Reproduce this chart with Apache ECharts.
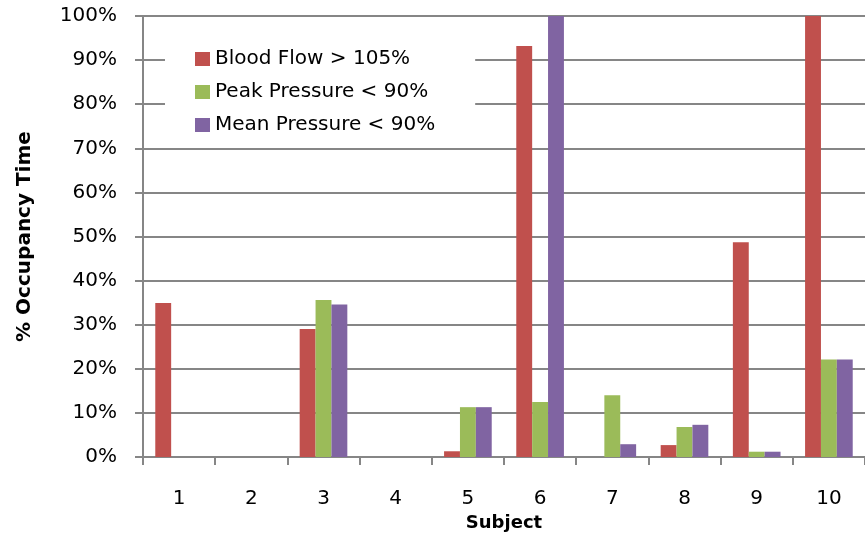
<!DOCTYPE html>
<html>
<head>
<meta charset="utf-8">
<script src="https://cdn.jsdelivr.net/npm/echarts@6/dist/echarts.min.js"></script>
<style>
html,body{margin:0;padding:0;background:#fff;}
#chart{width:865px;height:537px;}
</style>
</head>
<body>
<div id="chart"></div>
<script>
var categories = ['1','2','3','4','5','6','7','8','9','10'];
var seriesNames = ['Blood Flow > 105%', 'Peak Pressure < 90%', 'Mean Pressure < 90%'];
var bloodFlow    = [34.9, 0, 29.0, 0, 1.3, 93.2, 0, 2.7, 48.7, 100];
var peakPressure = [0, 0, 35.6, 0, 11.3, 12.5, 14.0, 6.8, 1.2, 22.1];
var meanPressure = [0, 0, 34.6, 0, 11.3, 100, 2.9, 7.3, 1.2, 22.1];
var colors = ['#C0504D', '#9BBB59', '#8064A2'];

var font = 'DejaVu Sans';
var chart = echarts.init(document.getElementById('chart'), null, {renderer: 'canvas'});
var dataSets = [bloodFlow, peakPressure, meanPressure];
var series = dataSets.map(function (d, i) {
  return {
    name: seriesNames[i],
    type: 'bar',
    data: d,
    barGap: '0%',
    barCategoryGap: '34%',
    itemStyle: {color: colors[i]},
    emphasis: {disabled: true},
    animation: false
  };
});

chart.setOption({
  animation: false,
  grid: {left: 143, top: 16, bottom: 80, right: -5, containLabel: false},
  legend: {
    orient: 'vertical',
    left: 165,
    top: 39,
    padding: [10, 40, 8, 30],
    backgroundColor: '#ffffff',
    itemWidth: 15,
    itemHeight: 14,
    itemGap: 13,
    icon: 'rect',
    textStyle: {fontFamily: font, fontSize: 20, lineHeight: 20, color: '#000'},
    data: seriesNames,
    z: 5
  },
  xAxis: {
    type: 'category',
    data: categories,
    name: 'Subject',
    nameLocation: 'middle',
    nameGap: 56,
    nameTextStyle: {fontFamily: font, fontSize: 18, fontWeight: 'bold', color: '#000'},
    axisLine: {lineStyle: {color: '#868686', width: 2}},
    axisTick: {show: true, length: 8, lineStyle: {color: '#868686', width: 2}, alignWithLabel: false},
    axisLabel: {fontFamily: font, fontSize: 20, color: '#000', margin: 32},
    splitLine: {show: false}
  },
  yAxis: {
    type: 'value',
    min: 0,
    max: 100,
    interval: 10,
    name: '% Occupancy Time',
    nameLocation: 'middle',
    nameGap: 108,
    nameRotate: 90,
    nameTextStyle: {fontFamily: font, fontSize: 20, fontWeight: 'bold', color: '#000'},
    axisLine: {show: true, lineStyle: {color: '#868686', width: 2}},
    axisTick: {show: true, length: 8, lineStyle: {color: '#868686', width: 2}},
    axisLabel: {fontFamily: font, fontSize: 20, color: '#000', margin: 26, formatter: '{value}%'},
    splitLine: {show: true, lineStyle: {color: '#868686', width: 2}}
  },
  series: series
});
</script>
</body>
</html>
